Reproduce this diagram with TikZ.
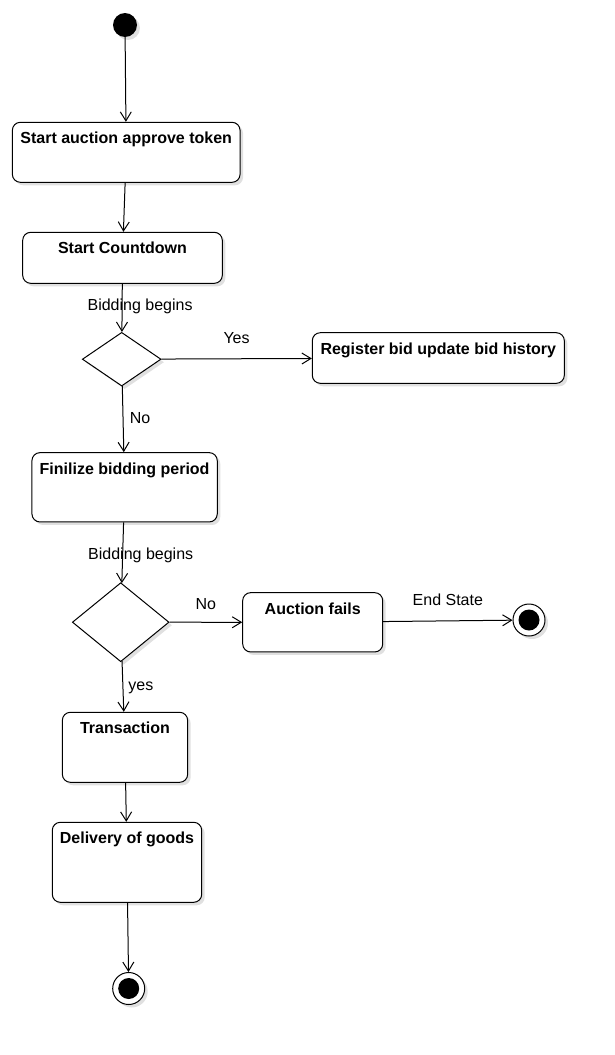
\documentclass[tikz,border=0pt]{standalone}
\usepackage{fontspec}
\setmainfont{Liberation Sans}
\usetikzlibrary{shapes.geometric, arrows.meta, shadows}
\tikzstyle{softshadow} = [drop shadow={shadow xshift=3pt, shadow yshift=-3pt, opacity=0.12, fill=black}]
\tikzstyle{activity} = [rectangle, rounded corners=8pt, draw=black, line width=1pt, fill=white, softshadow]
\tikzstyle{decision} = [diamond, draw=black, line width=1pt, fill=white, inner sep=0pt, softshadow]
\tikzstyle{initial} = [circle, fill=black, minimum size=24pt, inner sep=0pt, softshadow]
\tikzstyle{final} = [circle, draw=black, line width=1pt, fill=white, minimum size=32pt, inner sep=0pt, softshadow, path picture={\fill[black] (path picture bounding box.center) circle (10.5pt);}]
\tikzstyle{title} = [anchor=base, yshift=-22pt, inner sep=0pt, font=\fontsize{16pt}{19pt}\selectfont\bfseries]
\tikzstyle{guard} = [anchor=base, inner sep=0pt, font=\fontsize{16pt}{19pt}\selectfont]
\tikzstyle{arrow} = [line width=1pt, -{Straight Barb[length=9pt,width=11pt]}]

\begin{document}
\begin{tikzpicture}[x=1pt, y=-1pt]
        \fill[white] (0,0) rectangle (615,1055);
        \useasboundingbox (0,0) rectangle (615,1055);

        \node (start) [initial] at (125,25) {};
        \node (approve-token) [activity, minimum width=227.7pt, minimum height=60pt, label={[title]north:Start auction approve token}] at (126.2,152.3) {};
        \node (countdown) [activity, minimum width=199.6pt, minimum height=51pt, label={[title]north:Start Countdown}] at (122.5,257.8) {};
        \node (bid-check) [decision, minimum width=78.7pt, minimum height=53.7pt] at (121.7,359.2) {};
        \node (register-bid) [activity, minimum width=252pt, minimum height=50.6pt, label={[title]north:Register bid update bid history}] at (438.3,358) {};
        \node (finalize) [activity, minimum width=185.3pt, minimum height=69.3pt, label={[title]north:Finilize bidding period}] at (124.6,487.3) {};
        \node (result-check) [decision, minimum width=96.7pt, minimum height=79pt] at (120.7,622.2) {};
        \node (auction-fails) [activity, minimum width=140pt, minimum height=59.3pt, label={[title]north:Auction fails}] at (312.7,622.3) {};
        \node (end-fail) [final] at (529,620) {};
        \node (transaction) [activity, minimum width=125.3pt, minimum height=70pt, label={[title]north:Transaction}] at (125,747.3) {};
        \node (delivery) [activity, minimum width=149.4pt, minimum height=80pt, label={[title]north:Delivery of goods}] at (127,862.3) {};
        \node (end-done) [final] at (128.7,988.5) {};

        \draw [arrow] (start) -- (approve-token);
        \draw [arrow] (approve-token) -- (countdown);
        \draw [arrow] (countdown) -- node[guard, xshift=18pt, yshift=-3pt] {Bidding begins} (bid-check);
        \draw [arrow] (bid-check) -- node[guard, yshift=15pt] {Yes} (register-bid);
        \draw [arrow] (bid-check) -- node[guard, xshift=17pt, yshift=-4pt] {No} (finalize);
        \draw [arrow] (finalize) -- node[guard, xshift=18pt, yshift=-6.5pt] {Bidding begins} (result-check);
        \draw [arrow] (result-check) -- node[guard, yshift=13pt] {No} (auction-fails);
        \draw [arrow] (auction-fails) -- node[guard, yshift=15pt] {End State} (end-fail);
        \draw [arrow] (result-check) -- node[guard, xshift=18pt, yshift=-3.7pt] {yes} (transaction);
        \draw [arrow] (transaction) -- (delivery);
        \draw [arrow] (delivery) -- (end-done);
    \end{tikzpicture}
\end{document}
